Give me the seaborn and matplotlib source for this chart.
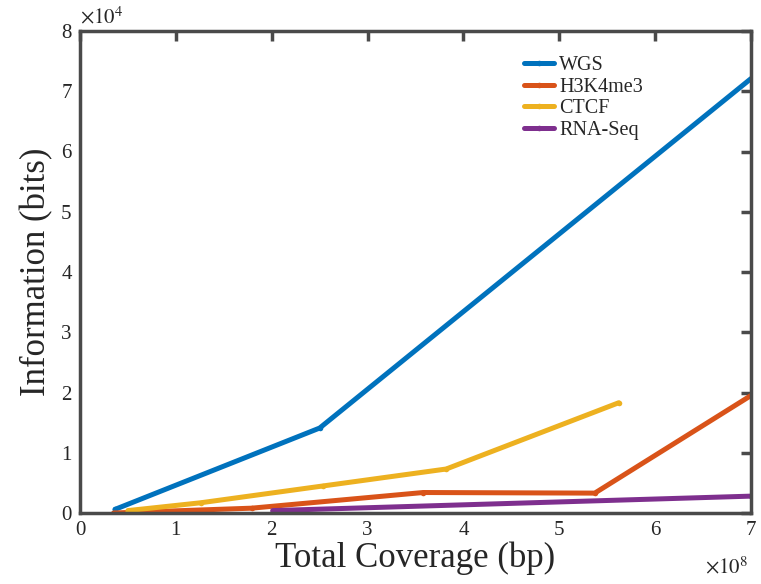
import numpy as np
import pandas as pd
import matplotlib
matplotlib.use("Agg")
import matplotlib.pyplot as plt
import seaborn as sns
from matplotlib.ticker import FuncFormatter

# --- Data ---
wgs_x = [0.365e8, 2.50e8, 7.0e8]
wgs_y = [0.06e4, 1.41e4, 7.21e4]

h3k_x = [0.35e8, 1.79e8, 3.58e8, 5.37e8, 7.0e8]
h3k_y = [0.0e4, 0.08e4, 0.34e4, 0.33e4, 1.95e4]

ctcf_x = [0.50e8, 1.26e8, 2.54e8, 3.82e8, 5.62e8]
ctcf_y = [0.04e4, 0.17e4, 0.45e4, 0.73e4, 1.83e4]

rna_x = [2.01e8, 7.0e8]
rna_y = [0.04e4, 0.28e4]

series_names = ["WGS", "H3K4me3", "CTCF", "RNA-Seq"]
colors = ["#0072BD", "#D95319", "#EDB120", "#7E2F8E"]

x_ticks = np.arange(0, 8) * 1e8
y_ticks = np.arange(0, 9) * 1e4


def main():
    frames = []
    for name, xs, ys in zip(series_names,
                            [wgs_x, h3k_x, ctcf_x, rna_x],
                            [wgs_y, h3k_y, ctcf_y, rna_y]):
        frames.append(pd.DataFrame({"coverage": xs, "info": ys, "series": name}))
    df = pd.concat(frames, ignore_index=True)

    sns.set_style("white")
    plt.rcParams['font.family'] = ['Liberation Serif', 'DejaVu Serif']
    plt.rcParams['mathtext.fontset'] = 'stix'

    fig = plt.figure(figsize=(7.61, 5.84), dpi=100)
    ax = fig.add_axes([80 / 761, 1 - 513 / 584, 671 / 761, 482 / 584])

    sns.lineplot(data=df, x="coverage", y="info", hue="series",
                 hue_order=series_names, palette=colors, sort=False,
                 marker="o", markersize=4, markeredgewidth=0,
                 linewidth=3.6, ax=ax)

    ax.set_xlim(0, 7e8)
    ax.set_ylim(0, 8e4)
    ax.set_xticks(x_ticks)
    ax.set_yticks(y_ticks)
    ax.xaxis.set_major_formatter(FuncFormatter(lambda v, p: f"{v / 1e8:g}"))
    ax.yaxis.set_major_formatter(FuncFormatter(lambda v, p: f"{v / 1e4:g}"))

    # exponent labels, MATLAB style
    ax.text(0.0, 1.005, r"$\times10^{4}$", transform=ax.transAxes,
            fontsize=15, ha="left", va="bottom")
    fig.text(748 / 761, 1 - 578 / 584, r"$\times10^{8}$",
             fontsize=15, ha="right", va="bottom")

    ax.tick_params(direction="in", length=7, width=2.5, color="#4a4a4a",
                   labelsize=15, top=True, right=True, pad=6)
    for spine in ax.spines.values():
        spine.set_color("#4a4a4a")
        spine.set_linewidth(2.5)

    ax.set_xlabel("Total Coverage (bp)", fontsize=25, labelpad=1)
    ax.set_ylabel("Information (bits)", fontsize=25, labelpad=6)

    leg = ax.legend(loc="upper left", bbox_to_anchor=(0.635, 0.985), frameon=False,
                    fontsize=14.5, handlelength=1.5, handletextpad=0.25,
                    labelspacing=0.12)
    for line in leg.get_lines():
        line.set_linewidth(3.6)

    fig.savefig("out.png", dpi=100)


if __name__ == '__main__':
    main()
